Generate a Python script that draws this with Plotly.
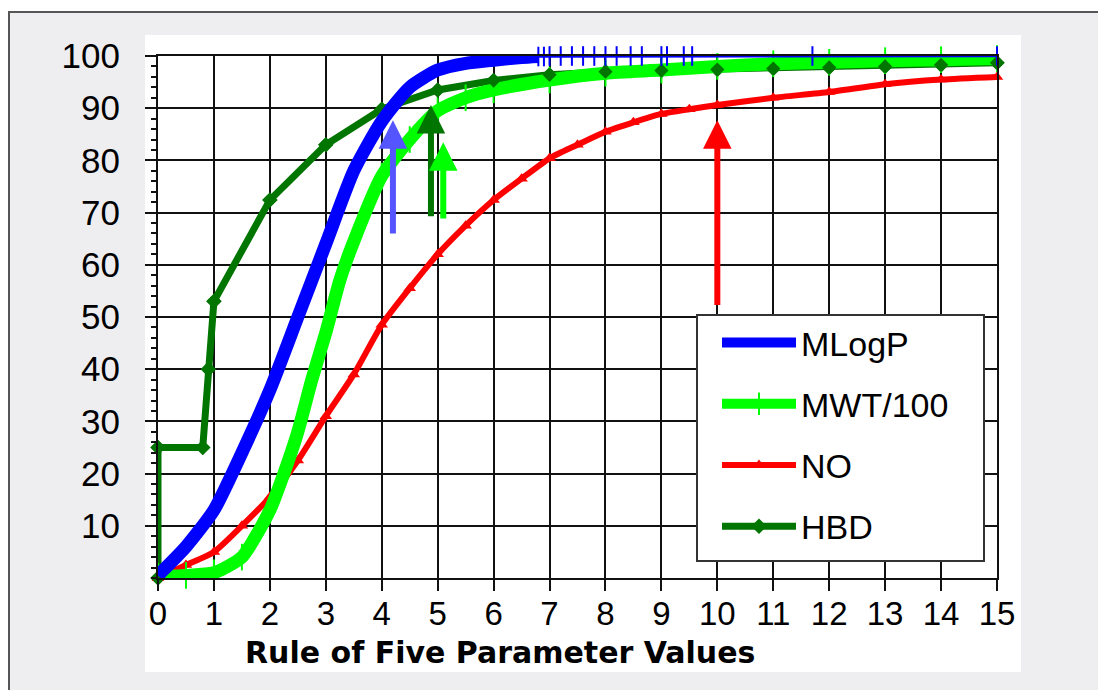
import plotly.graph_objects as go

# ---------------- data ----------------
mlogp_x = [0, 0.5, 1, 1.5, 2, 2.5, 3, 3.5, 4, 4.5, 5, 5.5, 6, 6.5, 6.8]
mlogp_y = [0.5, 6, 13, 24, 36, 50, 64, 78, 87.5, 94, 97.3, 98.6, 99.2, 99.7, 99.9]
mlogp_tail_x = [6.8, 6.9, 7.0, 7.2, 7.4, 7.6, 7.8, 8.0, 8.2, 8.45, 8.65, 9.0, 9.1, 9.4, 9.55, 11.7, 15]
mlogp_tail_y = [99.9, 99.9, 100, 100, 100, 100, 100, 100, 100, 100, 100, 100, 100, 100, 100, 100, 100]

mwt_x = [0, 0.5, 1, 1.5, 2, 2.25, 2.5, 2.75, 3, 3.25, 3.5, 4, 4.5, 5, 5.5, 6, 7, 8, 9, 10, 11, 12, 13, 14, 15]
mwt_y = [0.3, 0.5, 1, 4, 13, 20, 28, 38, 47, 57, 64.5, 77, 84, 89.5, 92, 93.5, 95.4, 96.7, 97.3, 98, 98.5, 98.8, 99.1, 99.3, 99.5]

no_x = [0, 0.5, 1, 1.5, 2, 2.5, 3, 3.5, 4, 4.5, 5, 5.5, 6, 6.5, 7, 7.5, 8, 8.5, 9, 9.5, 10, 11, 12, 13, 14, 15]
no_y = [0, 2.5, 5, 10, 15.5, 22.5, 31, 39, 48.5, 55.5, 62, 67.5, 72.4, 76.5, 80.4, 83, 85.5, 87.3, 88.9, 89.8, 90.6, 92, 93.1, 94.6, 95.5, 96]

hbd_x = [0, 0, 0.8, 0.9, 1, 2, 3, 4, 5, 6, 7, 8, 9, 10, 11, 12, 13, 14, 15]
hbd_y = [0, 25, 25, 40, 53, 72.4, 83, 89.8, 93.5, 95.3, 96.4, 97, 97.2, 97.4, 97.6, 97.8, 98, 98.3, 98.7]

# arrows: x position, tail value, tip value
arrow_names = ["MLogP", "HBD", "MWT/100", "NO"]
arrow_x = [4.2, 4.88, 5.1, 10.0]
arrow_tail = [65.7, 69, 68.6, 52]
arrow_tip = [87.7, 90.6, 83.5, 87.7]
arrow_colors = ["#5555ff", "#007500", "#00ff00", "#ff0000"]

x_ticks = list(range(0, 16))
y_ticks = list(range(10, 101, 10))

BLUE = "#0000ff"
LIME = "#00ff00"
RED = "#ff0000"
DGREEN = "#007500"

# ---------------- layout geometry ----------------
W, H = 1098, 690
L, R, T, B = 158, 101, 56, 112
PW, PH = W - L - R, H - T - B


def px2x(px):
    return (px - L) / PW


def py2y(py):
    return (H - B - py) / PH


fig = go.Figure()

# HBD line (bottom)
fig.add_trace(go.Scatter(
    x=hbd_x, y=hbd_y, name="HBD", mode="lines+markers",
    line=dict(color=DGREEN, width=7),
    marker=dict(symbol="diamond", size=12, color=DGREEN),
    legendrank=4, cliponaxis=False))

# NO
fig.add_trace(go.Scatter(
    x=no_x, y=no_y, name="NO", mode="lines+markers",
    line=dict(color=RED, width=6, shape="spline", smoothing=0.6),
    marker=dict(symbol="triangle-up", size=11, color=RED),
    legendrank=3, cliponaxis=False))

# MWT/100
fig.add_trace(go.Scatter(
    x=mwt_x, y=mwt_y, name="MWT/100", mode="lines+markers",
    line=dict(color=LIME, width=13, shape="spline", smoothing=0.6),
    marker=dict(symbol="line-ns", size=19, line=dict(color=LIME, width=2)),
    legendrank=2, cliponaxis=False))

# HBD diamonds visible above the green band
fig.add_trace(go.Scatter(
    x=hbd_x, y=hbd_y, mode="markers", showlegend=False, hoverinfo="skip",
    marker=dict(symbol="diamond", size=11, color=DGREEN), cliponaxis=False))

# MLogP
fig.add_trace(go.Scatter(
    x=mlogp_x, y=mlogp_y, name="MLogP", mode="lines",
    line=dict(color=BLUE, width=13, shape="spline", smoothing=0.6),
    legendgroup="mlogp", legendrank=1, cliponaxis=False))
fig.add_trace(go.Scatter(
    x=mlogp_tail_x, y=mlogp_tail_y, mode="lines+markers", showlegend=False,
    legendgroup="mlogp",
    line=dict(color=BLUE, width=2.5),
    marker=dict(symbol="line-ns", size=14, line=dict(color=BLUE, width=2)),
    cliponaxis=False))

# arrows
for ax_, t0, t1, c in zip(arrow_x, arrow_tail, arrow_tip, arrow_colors):
    fig.add_annotation(
        x=ax_, y=t1, ax=ax_, ay=t0, xref="x", yref="y", axref="x", ayref="y",
        text="", showarrow=True, arrowhead=2, arrowsize=0.95, arrowwidth=6,
        arrowcolor=c)

# x-axis title
fig.add_annotation(
    x=px2x(500), y=py2y(652), xref="paper", yref="paper",
    text="Rule of Five Parameter Values", showarrow=False,
    xanchor="center", yanchor="middle",
    font=dict(family="DejaVu Sans", size=30, color="black", weight="bold"))

# background frames
fig.add_shape(type="rect", xref="paper", yref="paper",
              x0=px2x(9), x1=px2x(1110), y0=py2y(12), y1=py2y(700),
              fillcolor="#eeeef0", line=dict(color="#555555", width=2), layer="below")
fig.add_shape(type="rect", xref="paper", yref="paper",
              x0=px2x(145), x1=px2x(1021), y0=py2y(35), y1=py2y(672),
              fillcolor="white", line=dict(width=0), layer="below")
# legend box
fig.add_shape(type="rect", xref="paper", yref="paper",
              x0=px2x(697), x1=px2x(984), y0=py2y(315), y1=py2y(561),
              fillcolor="white", line=dict(color="#333333", width=2), layer="above")

GRID = "#111111"
fig.update_xaxes(
    range=[0, 15], tickvals=x_ticks, ticktext=[str(v) for v in x_ticks],
    ticks="outside", ticklen=11, tickwidth=2, tickcolor=GRID,
    showgrid=True, gridcolor=GRID, gridwidth=2,
    showline=True, linecolor=GRID, linewidth=2, mirror=True, zeroline=False,
    tickfont=dict(family="Liberation Sans", size=33, color="black"),
    ticklabelstandoff=-6,
    fixedrange=True)
fig.update_yaxes(
    range=[0, 100], tickvals=y_ticks, ticktext=[str(v) for v in y_ticks],
    ticks="outside", ticklen=11, tickwidth=2, tickcolor=GRID,
    showgrid=True, gridcolor=GRID, gridwidth=2,
    showline=True, linecolor=GRID, linewidth=2, mirror=True, zeroline=False,
    minor=dict(dtick=2, tick0=0, ticks="outside", ticklen=5, tickwidth=2,
               tickcolor=GRID, showgrid=False),
    tickfont=dict(family="Liberation Sans", size=35, color="black"),
    ticklabelstandoff=18,
    fixedrange=True)

fig.update_layout(
    width=W, height=H,
    margin=dict(l=L, r=R, t=T, b=B, autoexpand=False),
    paper_bgcolor="white", plot_bgcolor="rgba(0,0,0,0)",
    showlegend=True,
    legend=dict(
        x=px2x(717), y=py2y(314), xanchor="left", yanchor="top",
        bgcolor="rgba(0,0,0,0)", borderwidth=0,
        font=dict(family="Liberation Sans", size=34, color="black"),
        itemwidth=74, tracegroupgap=14, traceorder="grouped",
        itemclick=False, itemdoubleclick=False),
)

fig.write_html("out.html", config={"displayModeBar": False},
               post_script="document.body.style.margin='0';")
